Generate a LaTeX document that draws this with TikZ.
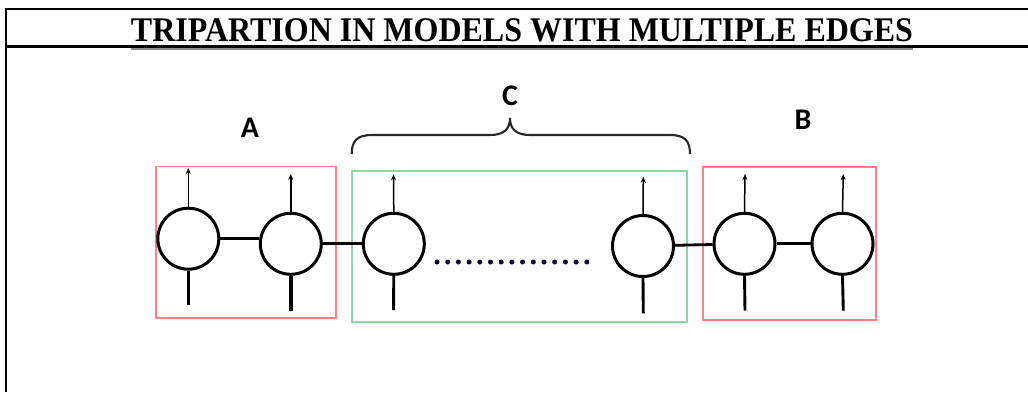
\documentclass[tikz,border=0pt]{standalone}
\usepackage{fontspec}
\setmainfont{Liberation Serif}
\newfontfamily\lblfont{Carlito}
\usetikzlibrary{arrows.meta}
\definecolor{boxred}{RGB}{255,128,128}
\definecolor{boxgreen}{RGB}{140,215,168}
\definecolor{ulgray}{RGB}{140,140,140}
\definecolor{bracegray}{RGB}{40,40,40}
\begin{document}
\begin{tikzpicture}[x=1pt,y=-1pt,
  site/.style={circle,draw=black,line width=3pt,minimum size=61pt,inner sep=0pt,fill=white},
  link/.style={line width=2.8pt},
  leg/.style={line width=2.9pt},
  outarrow/.style={line width=1.5pt,-{Stealth[length=6pt,width=5pt]}},
  region/.style={line width=1.8pt},
  lbl/.style={font=\lblfont\bfseries\fontsize{30}{34}\selectfont},
  frameline/.style={line width=2.4pt}]
\useasboundingbox (0,0) rectangle (1028,392);
% frame
\coordinate (ftl) at (6,8.8);
\coordinate (ftr) at (1028,8.8);
\coordinate (fbl) at (6,392);
\coordinate (fml) at (6,46.5);
\coordinate (fmr) at (1028,46.5);
\draw[frameline] (ftr) -- (ftl) -- (fbl);
\draw[frameline] (fml) -- (fmr);
% title
\node[anchor=base,inner sep=0pt,font=\bfseries\fontsize{32}{36}\selectfont] (title) at (522,41) {\scalebox{1}[1.08]{TRIPARTION IN MODELS WITH MULTIPLE EDGES}};
\draw[ulgray,line width=1.6pt] (title.base west) ++(0,8) coordinate (ul1) -- (title.base east |- ul1);
% region boxes
\node[draw=boxred,region,minimum width=179.5pt,minimum height=151.5pt,inner sep=0pt] (boxA) at (246,242.3) {};
\node[draw=boxgreen,region,minimum width=335pt,minimum height=151pt,inner sep=0pt] (boxC) at (519.2,246.2) {};
\node[draw=boxred,region,minimum width=172.4pt,minimum height=153.3pt,inner sep=0pt] (boxB) at (789.5,243.3) {};
% sites
\node[site] (s1) at (188.3,238.7) {};
\node[site] (s2) at (290.8,243.8) {};
\node[site] (s3) at (393.8,243.8) {};
\node[site] (s4) at (643,246) {};
\node[site] (s5) at (744.5,243.8) {};
\node[site] (s6) at (842.5,243.8) {};
% links
\draw[link] (s1.east) -- (s2.west |- s1.east);
\draw[link] (s2.east) -- (s3.west);
\draw[link] (s4) -- (s5);
\draw[link] (s5.east) -- (s6.west);
% outputs and legs
\coordinate (t1) at (188.3,168);   \coordinate (b1) at (188.3,305);
\coordinate (t2) at (290.8,174);   \coordinate (b2) at (290.8,311);
\coordinate (t3) at (393.5,174.3); \coordinate (b3) at (393.5,310);
\coordinate (t4) at (643.3,176.7); \coordinate (b4) at (643.3,313.3);
\coordinate (t5) at (745,174);     \coordinate (b5) at (745,310.7);
\coordinate (t6) at (843.3,174);   \coordinate (b6) at (843.3,310.7);
\foreach \i in {1,...,6} {
  \draw[outarrow] (s\i.north) -- (t\i);
}
\draw[leg] (s1.south) -- (b1);
\draw[leg,line width=3.6pt] (s2.south) -- (b2);
\draw[leg] (s3.south) -- (b3);
\draw[leg] (s4.south) -- (b4);
\draw[leg] (s5.south) -- (b5);
\draw[leg] (s6.south) -- (b6);
% dots
\foreach \k in {0,...,14} {
  \fill[black!85!blue] (437+\k*10.7,262) circle (2.5pt);
}
% brace
\coordinate (brL) at (351.7,154);
\coordinate (brR) at (690,154);
\coordinate (brT) at (510,118);
\draw[bracegray,line width=2.1pt]
  (brL) .. controls (351.7,141) and (357,135) .. (372,135)
  -- (490,135) .. controls (504,135) and (510,129) .. (brT)
  .. controls (510,129) and (516,135) .. (530,135)
  -- (670,135) .. controls (685,135) and (690,141) .. (brR);
% labels
\node[lbl] (labA) at (250,128) {A};
\node[lbl] (labB) at (803,119.5) {B};
\node[lbl] (labC) at (510,95.5) {C};
\end{tikzpicture}
\end{document}
